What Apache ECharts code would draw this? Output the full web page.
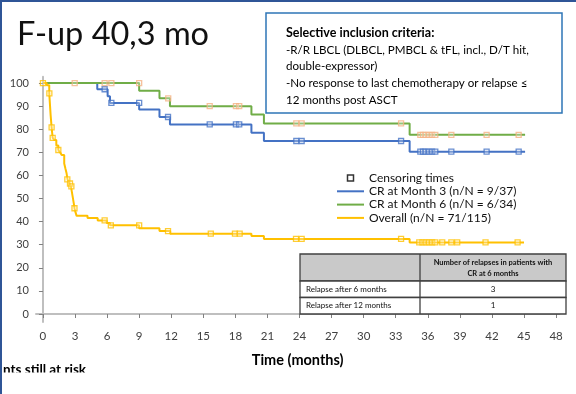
<!DOCTYPE html>
<html>
<head>
<meta charset="utf-8">
<script src="https://cdn.jsdelivr.net/npm/echarts/dist/echarts.min.js"></script>
<style>
  html, body { margin: 0; padding: 0; background: #fff; }
  #main { width: 576px; height: 394px; }
</style>
</head>
<body>
<div id="main"></div>
<script>
// step points [month, % event-free]
var cr3Steps = [[0, 100], [5.08, 97.3], [6.05, 94.3], [6.27, 91.4], [9.0, 88.5], [10.9, 85.3], [11.88, 82.1], [19.5, 78.5], [20.67, 74.9], [34.3, 70.3], [45.1, 70.3]];
var cr6Steps = [[0, 100], [9.0, 96.7], [10.9, 93.4], [11.88, 90.0], [19.5, 86.4], [20.67, 82.5], [34.3, 77.6], [45.1, 77.6]];
var overallSteps = [[0, 100], [0.35, 99], [0.59, 95.5], [0.72, 86], [0.81, 80.8], [0.91, 76.3], [1.06, 75.3], [1.25, 73], [1.44, 71.0], [1.6, 70], [1.75, 68.8], [1.99, 65.2], [2.1, 63], [2.21, 60.9], [2.3, 58.3], [2.45, 57], [2.53, 56.6], [2.62, 55.3], [2.7, 53], [2.78, 50.8], [2.88, 48], [2.95, 45.8], [3.05, 44], [3.15, 42.5], [4.17, 41.6], [5.12, 40.5], [5.96, 39.4], [6.27, 38.4], [9.0, 37.1], [10.9, 35.9], [11.9, 34.8], [19.5, 33.8], [20.67, 32.5], [34.3, 31.0], [45.0, 31.0]];

// censoring times
var cr3Censor = [[5.77, 97.3], [6.4, 91.4], [9.0, 91.4], [11.7, 85.3], [15.6, 82.1], [18.05, 82.1], [18.36, 82.1], [23.7, 74.9], [24.2, 74.9], [33.5, 74.9], [35.3, 70.3], [35.55, 70.3], [35.8, 70.3], [36.1, 70.3], [36.4, 70.3], [36.7, 70.3], [38.2, 70.3], [41.5, 70.3], [44.5, 70.3]];
var cr6Censor = [[2.97, 100], [5.77, 100], [6.4, 100], [9.0, 100], [11.72, 93.4], [15.6, 90.0], [18.05, 90.0], [18.36, 90.0], [23.7, 82.5], [24.2, 82.5], [33.5, 82.5], [35.3, 77.6], [35.55, 77.6], [35.8, 77.6], [36.1, 77.6], [36.4, 77.6], [36.7, 77.6], [38.2, 77.6], [41.5, 77.6], [44.5, 77.6]];
var overallCensor = [[0, 100], [0.6, 95.5], [0.81, 80.8], [0.91, 76.3], [1.44, 71.0], [2.28, 58.3], [2.53, 56.5], [2.66, 55.3], [2.95, 45.8], [5.77, 40.5], [6.35, 38.4], [9.0, 38.4], [11.7, 35.9], [15.7, 34.8], [17.96, 34.8], [18.4, 34.8], [23.67, 32.5], [24.2, 32.5], [33.5, 32.5], [35.2, 31.0], [35.5, 31.0], [35.8, 31.0], [36.1, 31.0], [36.4, 31.0], [36.7, 31.0], [37.35, 31.0], [38.2, 31.0], [38.75, 31.0], [41.4, 31.0], [44.4, 31.0]];

var xTicks = [0, 3, 6, 9, 12, 15, 18, 21, 24, 27, 30, 33, 36, 39, 42, 45, 48];
var yTicks = [0, 10, 20, 30, 40, 50, 60, 70, 80, 90, 100];

var seriesNames = ['CR at Month 3 (n/N = 9/37)', 'CR at Month 6 (n/N = 6/34)', 'Overall (n/N = 71/115)'];
var criteriaLines = ['-R/R LBCL (DLBCL, PMBCL & tFL, incl., D/T hit,', 'double-expressor)', '-No response to last chemotherapy or relapse \u2264', '12 months post ASCT'];
var tableHeader = ['Number of relapses in patients with', 'CR at 6 months'];
var tableRows = [['Relapse after 6 months', '3'], ['Relapse after 12 months', '1']];

var FONT = 'Lato, "Open Sans", sans-serif';
var BLUE = '#4472c4', GREEN = '#70ad47', YELLOW = '#ffc000';
var LINE_ICON = 'path://M0,0H27V2H0Z';

var chartDom = document.getElementById('main');
var myChart = echarts.init(chartDom, null, { renderer: 'canvas' });

const lineSeries = (name, data, color) => ({
    name: name,
    type: 'line',
    step: 'end',
    data: data,
    symbol: 'none',
    lineStyle: { color: color, width: 2 },
    itemStyle: { color: color },
    z: 2
});
const censorSeries = (name, data, color) => ({
    name: name,
    type: 'scatter',
    data: data,
    symbol: 'rect',
    symbolSize: 5,
    itemStyle: { color: 'rgba(255,255,255,0.35)', borderColor: color, borderWidth: 1.3 },
    z: 3
});

const getGraphics = () => {
    let g = [];
    // frame
    g.push({ type: 'rect', shape: { x: 0, y: 0, width: 576, height: 2 }, style: { fill: '#2f5597' } });
    g.push({ type: 'rect', shape: { x: 0, y: 0, width: 2, height: 394 }, style: { fill: '#2f5597' } });
    // title
    g.push({ type: 'text', left: 17, top: 18, style: { text: 'F-up 40,3 mo', font: '32.5px ' + FONT, fill: '#111' } });
    // criteria box
    g.push({ type: 'rect', shape: { x: 266, y: 13, width: 296, height: 100 }, style: { fill: '#fff', stroke: '#2e75b6', lineWidth: 1.5 }, z: 10 });
    g.push({ type: 'text', x: 286, y: 33, z: 11, style: { text: 'Selective inclusion criteria:', font: 'bold 12.5px ' + FONT, fill: '#000', verticalAlign: 'middle' } });
    criteriaLines.forEach((t, i) => {
        g.push({ type: 'text', x: 286, y: 50 + i * 16.7, z: 11, style: { text: t, font: '11.6px ' + FONT, fill: '#000', verticalAlign: 'middle' } });
    });
    // relapse table
    const tx = 300, tw = 266, split = 420, ty = 254, hh = 27, rh = 16.5;
    g.push({ type: 'rect', shape: { x: tx, y: ty, width: tw, height: hh }, style: { fill: '#c9c9c9', stroke: '#404040', lineWidth: 1.3 }, z: 10 });
    tableRows.forEach((r, i) => {
        const y = ty + hh + i * rh;
        g.push({ type: 'rect', shape: { x: tx, y: y, width: tw, height: rh }, style: { fill: '#fff', stroke: '#404040', lineWidth: 1.3 }, z: 10 });
        g.push({ type: 'text', x: tx + 6, y: y + rh / 2, z: 11, style: { text: r[0], font: '8px ' + FONT, fill: '#111', verticalAlign: 'middle' } });
        g.push({ type: 'text', x: (split + tx + tw) / 2, y: y + rh / 2, z: 11, style: { text: r[1], font: '8px ' + FONT, fill: '#111', align: 'center', verticalAlign: 'middle' } });
    });
    g.push({ type: 'line', shape: { x1: split, y1: ty, x2: split, y2: ty + hh + 2 * rh }, style: { stroke: '#404040', lineWidth: 1.3 }, z: 12 });
    tableHeader.forEach((t, i) => {
        g.push({ type: 'text', x: (split + tx + tw) / 2, y: ty + 9 + i * 11, z: 11, style: { text: t, font: 'bold 7.5px ' + FONT, fill: '#111', align: 'center', verticalAlign: 'middle' } });
    });
    // at-risk caption, cut off at the bottom like on the slide
    g.push({ type: 'text', x: 3, y: 370, z: 20, style: { text: 'nts still at risk', font: 'bold 13.5px ' + FONT, fill: '#000', verticalAlign: 'middle' } });
    g.push({ type: 'rect', shape: { x: 2, y: 372.5, width: 200, height: 22 }, style: { fill: '#fff' }, z: 21 });
    return g;
};

const getOption = () => {
    return {
        animation: false,
        backgroundColor: '#fff',
        textStyle: { fontFamily: FONT },
        grid: { left: 36, right: 16.7, top: 76.8, bottom: 71.9, containLabel: false },
        legend: {
            orient: 'vertical',
            left: 332,
            top: 167,
            itemWidth: 27,
            itemHeight: 6,
            itemGap: 1.3,
            textStyle: { fontSize: 12, lineHeight: 12, color: '#111', fontFamily: FONT },
            data: [
                { name: 'Censoring times', icon: 'path://M0,0H10V10H0Z', itemStyle: { color: '#fff', borderColor: '#000', borderWidth: 1.5 } },
                { name: seriesNames[0], icon: LINE_ICON },
                { name: seriesNames[1], icon: LINE_ICON },
                { name: seriesNames[2], icon: LINE_ICON }
            ]
        },
        xAxis: {
            type: 'value',
            min: -0.65,
            max: 48.3,
            name: 'Time (months)',
            nameLocation: 'middle',
            nameGap: 31,
            nameTextStyle: { fontSize: 14.5, fontWeight: 'bold', color: '#000', fontFamily: FONT },
            axisLine: { show: true, lineStyle: { color: '#bfbfbf', width: 2 } },
            axisTick: { show: true, customValues: xTicks, length: 4, lineStyle: { color: '#808080' } },
            axisLabel: { customValues: xTicks, color: '#404040', fontSize: 11.5, margin: 8 },
            splitLine: { show: false }
        },
        yAxis: {
            type: 'value',
            min: -3.5,
            max: 102.7,
            axisLine: { show: true, lineStyle: { color: '#bfbfbf', width: 2 } },
            axisTick: { show: true, customValues: yTicks, length: 4, lineStyle: { color: '#808080' } },
            axisLabel: { customValues: yTicks, color: '#404040', fontSize: 11, margin: 7 },
            splitLine: { show: false }
        },
        series: [
            { name: 'Censoring times', type: 'scatter', data: [], symbol: 'rect', itemStyle: { color: '#000' } },
            lineSeries(seriesNames[0], cr3Steps, BLUE),
            lineSeries(seriesNames[1], cr6Steps, GREEN),
            lineSeries(seriesNames[2], overallSteps, YELLOW),
            censorSeries('cr3 censored', cr3Censor, BLUE),
            censorSeries('cr6 censored', cr6Censor, '#f4b183'),
            censorSeries('overall censored', overallCensor, YELLOW)
        ],
        graphic: getGraphics()
    };
};

myChart.setOption(getOption());
</script>
</body>
</html>
